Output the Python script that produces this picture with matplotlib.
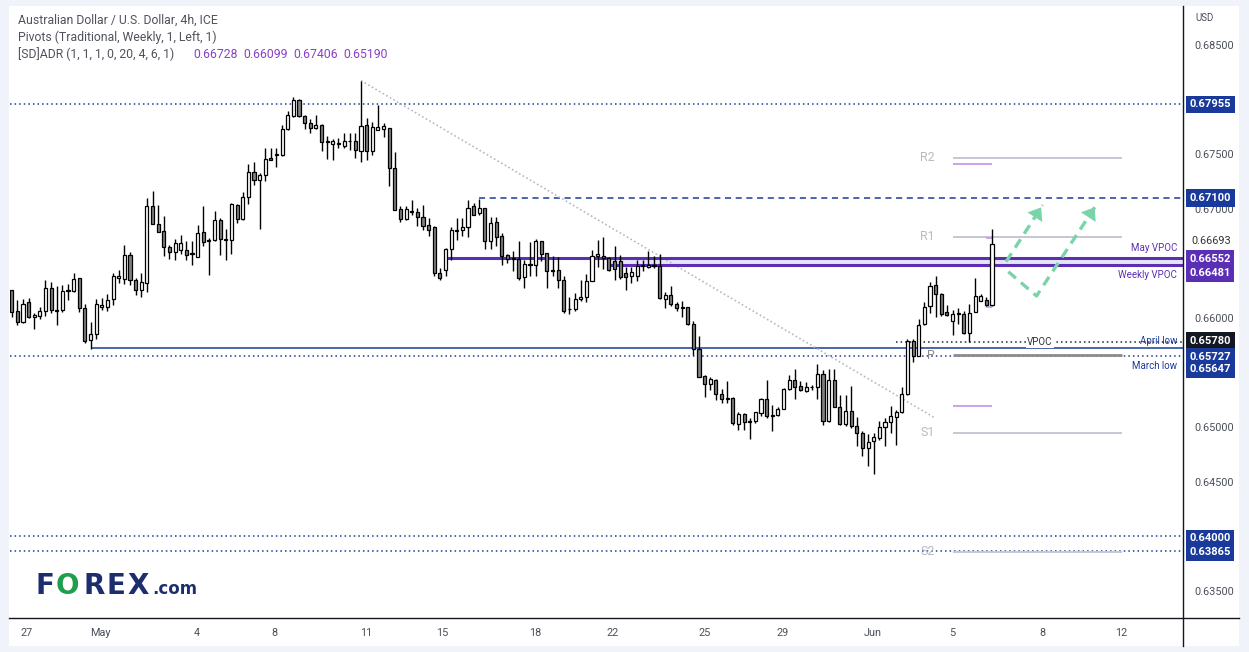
import numpy as np
import matplotlib.pyplot as plt
import matplotlib.transforms as mtransforms
from matplotlib.patches import Rectangle, FancyArrowPatch
from matplotlib.lines import Line2D

plt.rcParams['font.family'] = ['Roboto', 'DejaVu Sans']

# AUD/USD 4h candles (27 Apr - 6 Jun)
opens = [0.66252, 0.66060, 0.65963, 0.66146, 0.66008, 0.66014, 0.66060, 0.66274, 0.66075, 0.66069,
         0.66246, 0.66249, 0.66365, 0.66091, 0.65795, 0.65853, 0.66100, 0.66100, 0.66173, 0.66362,
         0.66356, 0.66579, 0.66350, 0.66258, 0.66320, 0.67027, 0.66859, 0.66792, 0.66649, 0.66603,
         0.66618, 0.66624, 0.66594, 0.66557, 0.66786, 0.66713, 0.66710, 0.66899, 0.66713, 0.66716,
         0.67036, 0.66905, 0.67106, 0.67335, 0.67265, 0.67305, 0.67463, 0.67488, 0.67494, 0.67729,
         0.67854, 0.67997, 0.67854, 0.67790, 0.67738, 0.67768, 0.67619, 0.67594, 0.67597, 0.67579,
         0.67619, 0.67622, 0.67533, 0.67768, 0.67533, 0.67723, 0.67729, 0.67738, 0.67372, 0.66997,
         0.66905, 0.66972, 0.66966, 0.66920, 0.66850, 0.66832, 0.66411, 0.66442, 0.66631, 0.66795,
         0.66801, 0.66829, 0.67021, 0.66960, 0.67009, 0.66707, 0.66878, 0.66753, 0.66573, 0.66545,
         0.66542, 0.66371, 0.66484, 0.66481, 0.66707, 0.66594, 0.66438, 0.66442, 0.66350, 0.66085,
         0.66082, 0.66173, 0.66188, 0.66341, 0.66564, 0.66570, 0.66548, 0.66518, 0.66518, 0.66411,
         0.66381, 0.66381, 0.66481, 0.66466, 0.66481, 0.66478, 0.66173, 0.66213, 0.66130, 0.66100,
         0.66097, 0.65947, 0.65716, 0.65466, 0.65395, 0.65435, 0.65304, 0.65264, 0.65267, 0.65032,
         0.65121, 0.65054, 0.65054, 0.65130, 0.65258, 0.65112, 0.65109, 0.65161, 0.65350, 0.65435,
         0.65380, 0.65334, 0.65371, 0.65368, 0.65490, 0.65054, 0.65435, 0.65185, 0.65032, 0.65151,
         0.65014, 0.64947, 0.64810, 0.64871, 0.64901, 0.64999, 0.65045, 0.65093, 0.65139, 0.65307,
         0.65792, 0.65648, 0.65943, 0.66105, 0.66303, 0.66221, 0.66053, 0.65968, 0.66041, 0.66038,
         0.65861, 0.66053, 0.66157, 0.66166, 0.66120]
highs = [0.66258, 0.66167, 0.66173, 0.66182, 0.66045, 0.66100, 0.66344, 0.66332, 0.66295, 0.66301,
         0.66313, 0.66411, 0.66365, 0.66127, 0.65963, 0.66173, 0.66182, 0.66219, 0.66411, 0.66442,
         0.66670, 0.66603, 0.66365, 0.66411, 0.67097, 0.67164, 0.67036, 0.66930, 0.66670, 0.66725,
         0.66756, 0.66701, 0.66701, 0.66853, 0.67021, 0.66731, 0.66975, 0.66914, 0.66817, 0.67057,
         0.67045, 0.67152, 0.67411, 0.67426, 0.67326, 0.67555, 0.67555, 0.67555, 0.67768, 0.67899,
         0.68027, 0.68006, 0.67860, 0.67820, 0.67860, 0.67774, 0.67662, 0.67637, 0.67646, 0.67692,
         0.67692, 0.67692, 0.68174, 0.67829, 0.67799, 0.67951, 0.67784, 0.67744, 0.67524, 0.67021,
         0.67027, 0.67082, 0.67006, 0.67036, 0.66914, 0.66838, 0.66457, 0.66640, 0.66829, 0.66914,
         0.66914, 0.67076, 0.67051, 0.67088, 0.67009, 0.66923, 0.66923, 0.66777, 0.66588, 0.66609,
         0.66701, 0.66533, 0.66692, 0.66725, 0.66707, 0.66594, 0.66564, 0.66557, 0.66387, 0.66191,
         0.66228, 0.66350, 0.66405, 0.66624, 0.66710, 0.66740, 0.66557, 0.66655, 0.66579, 0.66466,
         0.66466, 0.66533, 0.66533, 0.66615, 0.66570, 0.66585, 0.66234, 0.66295, 0.66143, 0.66152,
         0.66100, 0.65969, 0.65838, 0.65481, 0.65456, 0.65444, 0.65350, 0.65420, 0.65273, 0.65139,
         0.65130, 0.65084, 0.65139, 0.65267, 0.65435, 0.65206, 0.65185, 0.65359, 0.65475, 0.65536,
         0.65420, 0.65411, 0.65389, 0.65581, 0.65527, 0.65536, 0.65536, 0.65298, 0.65298, 0.65380,
         0.65093, 0.64962, 0.64932, 0.64947, 0.65054, 0.65084, 0.65191, 0.65154, 0.65368, 0.65807,
         0.65807, 0.65992, 0.66145, 0.66325, 0.66380, 0.66230, 0.66120, 0.66074, 0.66090, 0.66059,
         0.66129, 0.66370, 0.66221, 0.66190, 0.66816]
lows = [0.66008, 0.65932, 0.65954, 0.65999, 0.65899, 0.65990, 0.66014, 0.66045, 0.65932, 0.66051,
        0.66167, 0.66237, 0.66051, 0.65770, 0.65716, 0.65807, 0.66075, 0.66060, 0.66115, 0.66320,
        0.66313, 0.66304, 0.66206, 0.66188, 0.66237, 0.66859, 0.66786, 0.66564, 0.66542, 0.66533,
        0.66588, 0.66533, 0.66481, 0.66557, 0.66655, 0.66390, 0.66701, 0.66573, 0.66527, 0.66588,
        0.66868, 0.66899, 0.67045, 0.67213, 0.66817, 0.67250, 0.67448, 0.67387, 0.67479, 0.67723,
        0.67845, 0.67845, 0.67729, 0.67692, 0.67729, 0.67533, 0.67454, 0.67442, 0.67555, 0.67555,
        0.67540, 0.67469, 0.67426, 0.67448, 0.67494, 0.67717, 0.67656, 0.67204, 0.66984, 0.66875,
        0.66893, 0.66945, 0.66838, 0.66808, 0.66747, 0.66381, 0.66344, 0.66381, 0.66533, 0.66710,
        0.66747, 0.66740, 0.66939, 0.66945, 0.66634, 0.66634, 0.66655, 0.66487, 0.66503, 0.66426,
        0.66350, 0.66274, 0.66381, 0.66381, 0.66518, 0.66274, 0.66381, 0.66274, 0.66045, 0.66039,
        0.66060, 0.66152, 0.66143, 0.66335, 0.66466, 0.66448, 0.66426, 0.66350, 0.66359, 0.66252,
        0.66320, 0.66335, 0.66426, 0.66457, 0.66457, 0.66173, 0.66091, 0.66112, 0.66060, 0.66008,
        0.65938, 0.65664, 0.65459, 0.65273, 0.65344, 0.65246, 0.65222, 0.65222, 0.65023, 0.64971,
        0.64977, 0.64892, 0.65039, 0.65100, 0.65084, 0.64962, 0.65100, 0.65161, 0.65344, 0.65261,
        0.65328, 0.65319, 0.65344, 0.65261, 0.65023, 0.65048, 0.65185, 0.65023, 0.65014, 0.64993,
        0.64825, 0.64734, 0.64642, 0.64566, 0.64886, 0.64825, 0.64947, 0.64840, 0.65130, 0.65298,
        0.65594, 0.65648, 0.65937, 0.66044, 0.66004, 0.66020, 0.66014, 0.65846, 0.65943, 0.65855,
        0.65779, 0.66050, 0.66151, 0.66105, 0.66105]
closes = [0.66054, 0.65963, 0.66127, 0.66008, 0.66030, 0.66063, 0.66274, 0.66069, 0.66066, 0.66249,
          0.66258, 0.66356, 0.66091, 0.65786, 0.65853, 0.66127, 0.66118, 0.66167, 0.66387, 0.66387,
          0.66579, 0.66344, 0.66252, 0.66329, 0.67027, 0.66859, 0.66786, 0.66649, 0.66603, 0.66686,
          0.66686, 0.66579, 0.66588, 0.66777, 0.66695, 0.66707, 0.66899, 0.66722, 0.66719, 0.67042,
          0.66908, 0.67106, 0.67335, 0.67259, 0.67311, 0.67457, 0.67451, 0.67500, 0.67732, 0.67860,
          0.67997, 0.67851, 0.67784, 0.67738, 0.67768, 0.67610, 0.67613, 0.67622, 0.67603, 0.67622,
          0.67625, 0.67540, 0.67759, 0.67533, 0.67747, 0.67747, 0.67759, 0.67372, 0.66984, 0.66905,
          0.66997, 0.66978, 0.66920, 0.66838, 0.66808, 0.66411, 0.66365, 0.66634, 0.66801, 0.66801,
          0.66832, 0.67006, 0.66939, 0.67006, 0.66704, 0.66869, 0.66740, 0.66564, 0.66542, 0.66539,
          0.66365, 0.66496, 0.66490, 0.66707, 0.66588, 0.66432, 0.66432, 0.66350, 0.66060, 0.66079,
          0.66173, 0.66191, 0.66341, 0.66564, 0.66585, 0.66548, 0.66442, 0.66448, 0.66371, 0.66374,
          0.66420, 0.66472, 0.66475, 0.66481, 0.66475, 0.66182, 0.66213, 0.66127, 0.66091, 0.66094,
          0.65944, 0.65716, 0.65459, 0.65395, 0.65444, 0.65304, 0.65258, 0.65258, 0.65039, 0.65121,
          0.65048, 0.65048, 0.65139, 0.65258, 0.65100, 0.65106, 0.65161, 0.65350, 0.65435, 0.65365,
          0.65337, 0.65368, 0.65365, 0.65490, 0.65054, 0.65435, 0.65185, 0.65032, 0.65151, 0.65008,
          0.64947, 0.64810, 0.64865, 0.64907, 0.64999, 0.65048, 0.65106, 0.65139, 0.65307, 0.65786,
          0.65648, 0.65937, 0.66099, 0.66294, 0.66218, 0.66038, 0.66023, 0.66038, 0.66035, 0.65861,
          0.66044, 0.66203, 0.66203, 0.66114, 0.66675]

# x axis: bar index where each date label sits
date_ticks = [2.7, 15.7, 32.9, 46.7, 62.9, 76.5, 93.0, 106.7, 123.0, 136.9, 152.8, 166.9, 183.0, 196.9]
date_labels = ['27', 'May', '4', '8', '11', '15', '18', '22', '25', '29', 'Jun', '5', '8', '12']
# price scale labels not hidden behind the level tags
price_ticks = [0.635, 0.645, 0.650, 0.660, 0.670, 0.675, 0.685]

# key levels
dotted_levels = [0.67955, 0.65647, 0.64000, 0.63865]
resistance = 0.67100
may_vpoc = 0.66552
weekly_vpoc = 0.66481
april_low = 0.65727
vpoc = 0.65780
last_price = 0.66693

# weekly traditional pivots
pivot_names = ['R2', 'R1', 'P', 'S1', 'S2']
pivot_vals = [0.67465, 0.66744, 0.65660, 0.64949, 0.63859]
adr_vals = [0.66728, 0.66099, 0.67406, 0.65190]

# drawn trend line and projected path
trend_x = [62, 163.9]
trend_y = [0.68174, 0.65083]
path1_x = [176.5, 183.0]
path1_y = [0.66515, 0.67034]
path2_x = [176.9, 181.9, 192.5]
path2_y = [0.66423, 0.66201, 0.67034]

NAVY = '#1a3a9b'
PURPLE = '#5b2fb5'
GREEN = '#79d4a9'

W, H = 1249, 652
fig = plt.figure(figsize=(W / 100, H / 100), dpi=100, facecolor='#f0f3fa')
fig.add_artist(Rectangle((9 / W, 6 / H), 1230 / W, 640 / H, transform=fig.transFigure,
                         facecolor='white', edgecolor='none', zorder=0))
ax = fig.add_axes([10 / W, 34 / H, 1173 / W, 610 / H])
ax.set_facecolor('none')
for s in ax.spines.values():
    s.set_visible(False)
fig.add_artist(Line2D([9 / W, 1239 / W], [34 / H, 34 / H], color='#131722', lw=1, transform=fig.transFigure))
fig.add_artist(Line2D([1183 / W, 1183 / W], [6 / H, 646 / H], color='#131722', lw=1, transform=fig.transFigure))

ax.set_xlim(-0.3, 207.9)
ax.set_ylim(0.63251, 0.68839)

# candles
o = np.array(opens); c = np.array(closes)
x = np.arange(len(o))
up = c >= o
ax.vlines(x, lows, highs, color='black', lw=1, zorder=4)
ax.bar(x, np.maximum(np.abs(c - o), 0.00003), bottom=np.minimum(o, c), width=0.55,
       color=np.where(up, 'white', '#808080'), edgecolor='black', lw=0.9, zorder=5)

# levels
xmax = ax.get_xlim()[1]
for lv in dotted_levels:
    ax.axhline(lv, color=NAVY, lw=1.1, ls=(0, (1, 2)), zorder=2)
ax.hlines(resistance, 83, xmax, color=NAVY, lw=1.1, ls=(0, (4, 3)), zorder=2)
ax.fill_between([105.8, xmax], weekly_vpoc, may_vpoc, color='#e6e5f4', zorder=1)
ax.hlines(may_vpoc, 76.7, xmax, color=PURPLE, lw=2.2, zorder=3)
ax.hlines(weekly_vpoc, 105.8, xmax, color=PURPLE, lw=2.2, zorder=3)
ax.hlines(april_low, 14, xmax, color=NAVY, lw=1.1, zorder=2)
ax.hlines(vpoc, 157, xmax, color='#222222', lw=1.1, ls=(0, (1, 2)), zorder=2)
ax.text(182.5, vpoc, 'VPOC', ha='center', va='center', fontsize=7, color='#333333', zorder=6,
        bbox=dict(boxstyle='square,pad=0.15', fc='white', ec='none'))
ax.plot(trend_x, trend_y, color='#b7b9c0', lw=1.2, ls=(0, (1, 1.5)), zorder=2)

# pivots
for name, pv in zip(pivot_names, pivot_vals):
    col = '#8c8c8c' if name == 'P' else '#c6c7d0'
    ax.hlines(pv, 167, 197, color=col, lw=2 if name == 'P' else 1.4, zorder=2)
    ax.annotate(name, (167, pv), xytext=(-13, 0), textcoords='offset points', ha='right', va='center',
                fontsize=9, color='#8c8c8c' if name == 'P' else '#b8bac4')
ax.hlines(adr_vals[2:], 167, 174, color='#c9a6e8', lw=1.5, zorder=2)
ax.hlines(adr_vals[:2], 173, 174, color='#c9a6e8', lw=1.5, zorder=2)

# projected path
ax.plot(path1_x, path1_y, color=GREEN, lw=2.4, ls=(0, (3, 2)), zorder=6)
ax.plot(path2_x, path2_y, color=GREEN, lw=2.4, ls=(0, (3, 2)), zorder=6)
for px, py in [(path1_x, path1_y), (path2_x, path2_y)]:
    tip = (px[-1], py[-1])
    back = (px[-1] - (px[-1] - px[-2]) * 0.12, py[-1] - (py[-1] - py[-2]) * 0.12)
    ax.add_patch(FancyArrowPatch(back, tip, arrowstyle='-|>,head_length=0.6,head_width=0.45',
                                 mutation_scale=14, color=GREEN, lw=0, zorder=7))

# level captions
trans_r = mtransforms.blended_transform_factory(ax.transAxes, ax.transData)
cap = dict(xycoords=trans_r, textcoords='offset points', ha='right', fontsize=7)
ax.annotate('May VPOC', (0.995, may_vpoc), xytext=(0, 3), va='bottom', color=PURPLE, **cap)
ax.annotate('Weekly VPOC', (0.995, weekly_vpoc), xytext=(0, -3), va='top', color=PURPLE, **cap)
ax.annotate('April low', (0.995, april_low), xytext=(0, 1), va='bottom', color=NAVY, **cap)
ax.annotate('March low', (0.995, 0.65647), xytext=(0, -3), va='top', color=NAVY, **cap)

# axes ticks
ax.yaxis.tick_right()
ax.set_yticks(price_ticks, [f'{t:.5f}' for t in price_ticks])
ax.tick_params(axis='y', length=0, pad=8, labelsize=7.8, labelcolor='#4a4f5a')
ax.set_xticks(date_ticks, date_labels)
ax.tick_params(axis='x', length=0, pad=7, labelsize=7.8, labelcolor='#4a4f5a')

# price tags on the scale
tags = [(0.67955, NAVY, 0), (0.67100, NAVY, 0), (may_vpoc, PURPLE, -1), (weekly_vpoc, PURPLE, -8),
        (vpoc, '#131722', 1), (april_low, NAVY, -9), (0.65647, NAVY, -12.5),
        (0.64000, NAVY, -2), (0.63865, NAVY, -1)]
for val, col, dy in tags:
    ax.annotate(f'{val:.5f}', (1.0, val), xycoords=trans_r, xytext=(4.6, dy * 0.72),
                textcoords='offset points', ha='left', va='center', fontsize=8, weight='bold',
                color='white', annotation_clip=False, zorder=10,
                bbox=dict(boxstyle='square,pad=0.33', fc=col, ec='none'))
ax.annotate(f'{last_price:.5f}', (1.0, last_price), xycoords=trans_r, xytext=(6, 1),
            textcoords='offset points', ha='left', va='center', fontsize=7.8, color='#333333',
            annotation_clip=False, zorder=9, bbox=dict(boxstyle='square,pad=0.15', fc='white', ec='none'))
fig.text(1195 / W, 1 - 18 / H, 'USD', fontsize=7, color='#4a4f5a', va='center')

# header
hdr = dict(fontsize=8.8, color='#50535e', va='center')
fig.text(18 / W, 1 - 20 / H, 'Australian Dollar / U.S. Dollar, 4h, ICE', **hdr)
fig.text(18 / W, 1 - 37 / H, 'Pivots (Traditional, Weekly, 1, Left, 1)', **hdr)
fig.text(18 / W, 1 - 54 / H, '[SD]ADR (1, 1, 1, 0, 20, 4, 6, 1)', **hdr)
for i, v in enumerate(adr_vals):
    fig.text((193 + 50 * i) / W, 1 - 54 / H, f'{v:.5f}', fontsize=8.8, color='#8a3fc8', va='center')

# logo
logo = dict(fontsize=20, weight='bold', va='baseline', family='DejaVu Sans')
for ch, px, col in [('F', 35, '#1c2e6e'), ('O', 56, '#1e9e4f'), ('R', 84, '#1c2e6e'),
                    ('E', 107, '#1c2e6e'), ('X', 127, '#1c2e6e')]:
    fig.text(px / W, 1 - 594 / H, ch, color=col, **logo)
fig.text(152 / W, 1 - 594 / H, '.com', fontsize=12, weight='bold', va='baseline',
         color='#1c2e6e', family='DejaVu Sans')

fig.savefig('out.png', dpi=100, facecolor=fig.get_facecolor())
